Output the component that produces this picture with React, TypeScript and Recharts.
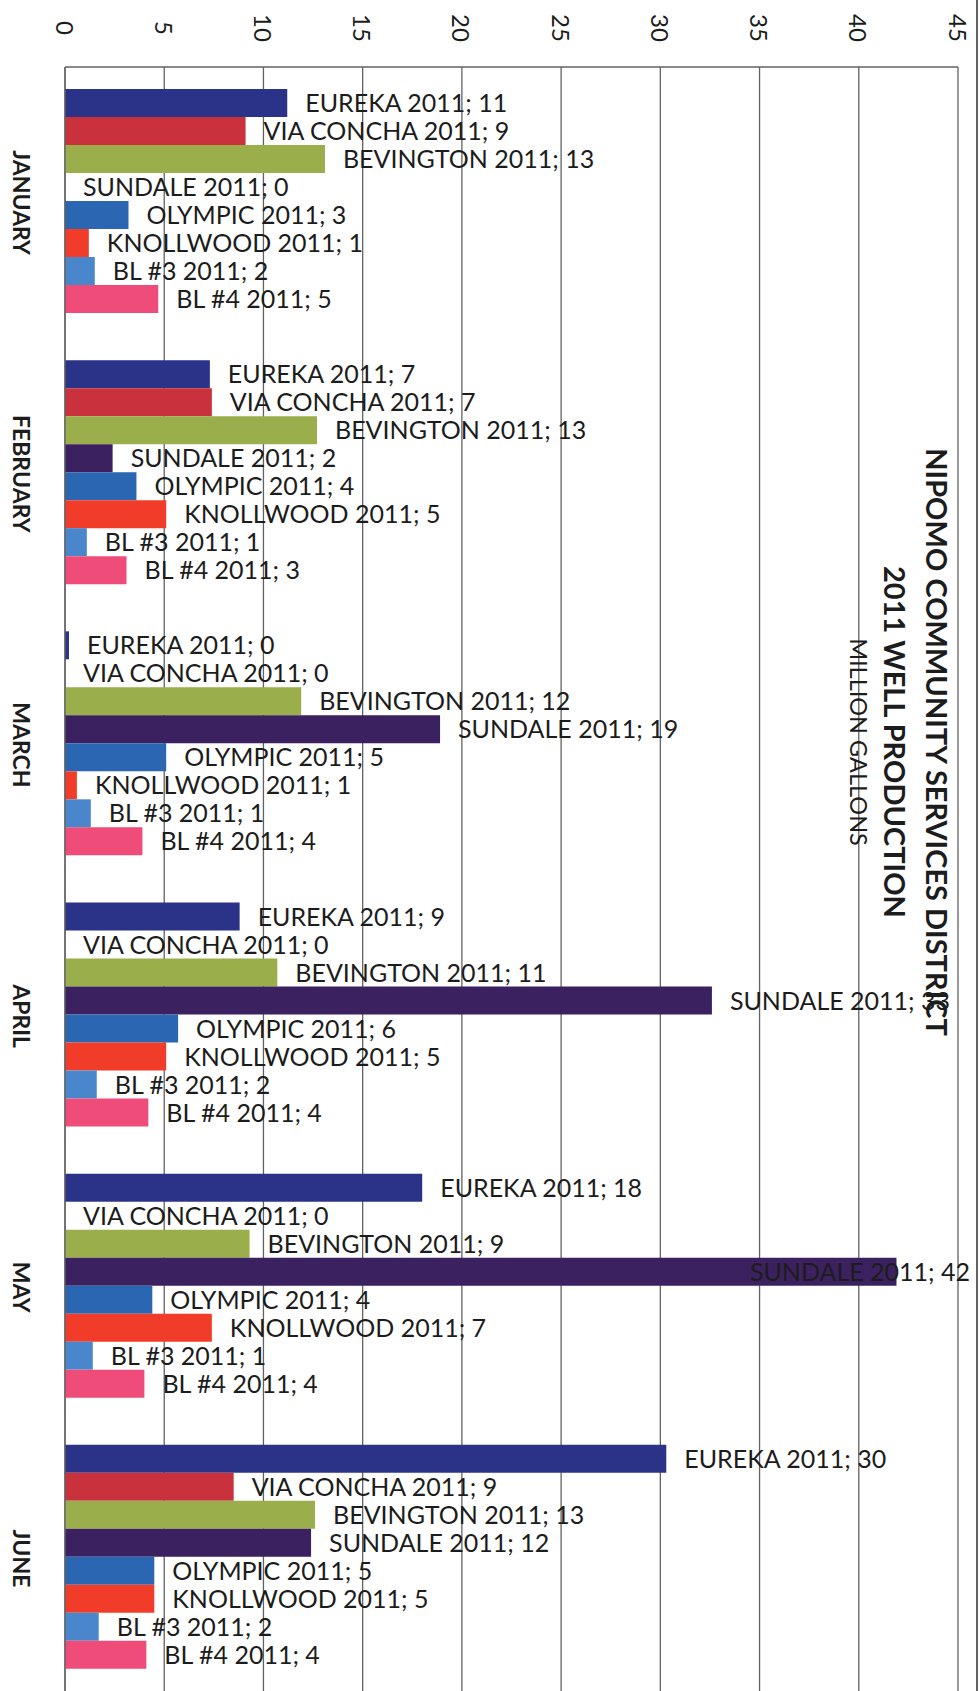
import { BarChart, Bar, XAxis, YAxis, CartesianGrid, LabelList } from 'recharts'

// million gallons per well, Jan–Jun 2011
const MONTHS = ['JANUARY', 'FEBRUARY', 'MARCH', 'APRIL', 'MAY', 'JUNE']

const EUREKA = [11.2, 7.3, 0.2, 8.8, 18.0, 30.3]
const VIA_CONCHA = [9.1, 7.4, 0, 0, 0, 8.5]
const BEVINGTON = [13.1, 12.7, 11.9, 10.7, 9.3, 12.6]
const SUNDALE = [0, 2.4, 18.9, 32.6, 41.9, 12.4]
const OLYMPIC = [3.2, 3.6, 5.1, 5.7, 4.4, 4.5]
const KNOLLWOOD = [1.2, 5.1, 0.6, 5.1, 7.4, 4.5]
const BL3 = [1.5, 1.1, 1.3, 1.6, 1.4, 1.7]
const BL4 = [4.7, 3.1, 3.9, 4.2, 4.0, 4.1]

const VALUE_TICKS = [0, 5, 10, 15, 20, 25, 30, 35, 40, 45]

const SERIES = [
  { key: 'eureka', name: 'EUREKA 2011', color: '#2b3388', values: EUREKA },
  { key: 'viaConcha', name: 'VIA CONCHA 2011', color: '#c9323d', values: VIA_CONCHA },
  { key: 'bevington', name: 'BEVINGTON 2011', color: '#9aae4c', values: BEVINGTON },
  { key: 'sundale', name: 'SUNDALE 2011', color: '#3c2160', values: SUNDALE },
  { key: 'olympic', name: 'OLYMPIC 2011', color: '#2a66b2', values: OLYMPIC },
  { key: 'knollwood', name: 'KNOLLWOOD 2011', color: '#f23c2a', values: KNOLLWOOD },
  { key: 'bl3', name: 'BL #3 2011', color: '#4a86cc', values: BL3 },
  { key: 'bl4', name: 'BL #4 2011', color: '#ef4c79', values: BL4 },
]

const data = MONTHS.map((month, i) => {
  const row: Record<string, string | number> = { month }
  SERIES.forEach((s) => { row[s.key] = s.values[i] })
  return row
})

const FONT = 'Lato, "Open Sans", sans-serif'
const GRID = '#626262'
const LABEL_SIZE = 25
const CHAR_W = 14.2
const RIGHT_LIMIT = 970

function barLabel(name: string) {
  return (props: any) => {
    const x = Number(props.x)
    const y = Number(props.y)
    const w = Number(props.width) || 0
    const h = Number(props.height)
    const text = `${name}; ${Math.round(Number(props.value))}`
    let tx = x + w + 18
    let anchor: 'start' | 'end' = 'start'
    // labels that would run off the edge get pulled back inside, like Excel does
    if (tx + text.length * CHAR_W > RIGHT_LIMIT) {
      tx = RIGHT_LIMIT
      anchor = 'end'
    }
    return (
      <text x={tx} y={y + h / 2} dy="0.36em" textAnchor={anchor} fontSize={LABEL_SIZE} fontFamily={FONT} fill="#1c1c1c">
        {text}
      </text>
    )
  }
}

const ValueTick = ({ x, payload }: any) => (
  <text
    x={x}
    y={28}
    transform={`rotate(90 ${x} 28)`}
    textAnchor="middle"
    dominantBaseline="central"
    fontSize={24}
    fontFamily={FONT}
    fill="#1c1c1c"
  >
    {payload.value}
  </text>
)

const MonthTick = ({ y, payload }: any) => (
  <text
    x={22}
    y={y}
    transform={`rotate(90 22 ${y})`}
    textAnchor="middle"
    dominantBaseline="central"
    fontSize={23}
    fontWeight="bold"
    fontFamily={FONT}
    fill="#1c1c1c"
  >
    {payload.value}
  </text>
)

const titleStyle = (left: number, size: number, bold: boolean): React.CSSProperties => ({
  position: 'absolute',
  left,
  top: 742,
  transform: 'translate(-50%, -50%)',
  writingMode: 'vertical-rl',
  whiteSpace: 'nowrap',
  fontFamily: FONT,
  fontSize: size,
  fontWeight: bold ? 700 : 400,
  lineHeight: 1,
  color: '#1c1c1c',
})

export default function App() {
  return (
    <div style={{ position: 'absolute', left: 0, top: 0, width: 979, height: 1691, overflow: 'hidden', background: 'white' }}>
      <BarChart
        width={979}
        height={1700}
        data={data}
        layout="vertical"
        margin={{ top: 0, right: 21, bottom: 6, left: 0 }}
        barGap={0}
        barCategoryGap={22}
      >
        <CartesianGrid horizontal={false} stroke={GRID} strokeWidth={1.3} />
        <XAxis
          type="number"
          orientation="top"
          domain={[0, 45]}
          ticks={VALUE_TICKS}
          interval={0}
          height={67}
          tickLine={false}
          axisLine={{ stroke: GRID, strokeWidth: 1.3 }}
          tick={<ValueTick />}
        />
        <YAxis
          type="category"
          dataKey="month"
          width={65}
          interval={0}
          tickLine={false}
          axisLine={{ stroke: GRID, strokeWidth: 1.3 }}
          tick={<MonthTick />}
        />
        {SERIES.map((s) => (
          <Bar key={s.key} dataKey={s.key} name={s.name} fill={s.color} minPointSize={0.01} isAnimationActive={false}>
            <LabelList dataKey={s.key} content={barLabel(s.name)} />
          </Bar>
        ))}
      </BarChart>
      <div style={titleStyle(937, 29, true)}>NIPOMO COMMUNITY SERVICES DISTRICT</div>
      <div style={titleStyle(895, 29, true)}>2011 WELL PRODUCTION</div>
      <div style={titleStyle(858, 23.5, false)}>MILLION GALLONS</div>
      <div style={{ position: 'absolute', left: 976, top: 0, width: 1.5, height: 1691, background: GRID }} />
    </div>
  )
}
